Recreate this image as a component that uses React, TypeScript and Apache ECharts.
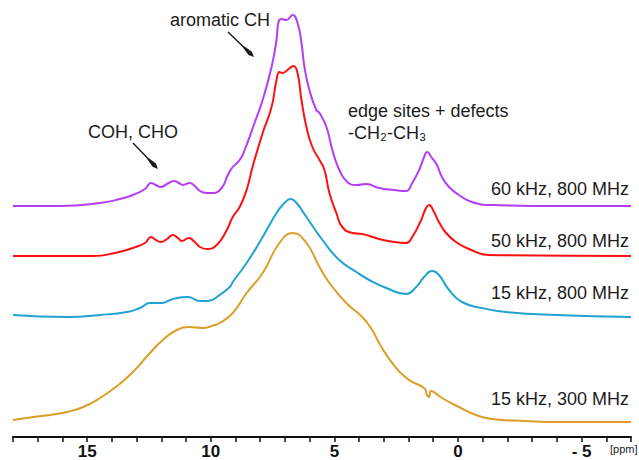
import React, { useEffect, useRef } from "react";
import * as echarts from "echarts";

// Chemical shift (ppm) and intensity (arbitrary units, above each trace's own baseline)
const ppm60 = [18.0, 16.09, 14.48, 13.67, 13.15, 12.66, 12.42, 12.22, 12.02, 11.77, 11.49, 11.29, 11.13, 10.85, 10.65, 10.44, 10.16, 9.92, 9.56, 9.31, 9.11, 8.83, 8.63, 8.23, 7.9, 7.54, 7.34, 7.26, 7.14, 6.94, 6.69, 6.49, 6.33, 6.21, 6.01, 5.73, 5.6, 5.32, 5.08, 4.8, 4.48, 4.11, 3.71, 3.19, 2.58, 2.1, 1.85, 1.57, 1.37, 1.25, 1.05, 0.85, 0.65, 0.36, -0.04, -0.56, -1.37, -4.07, -7.0];
const int60 = [0, 0, 3, 7, 11, 17, 23, 21, 19, 22, 25, 23, 21, 23, 20, 15, 13, 13, 18, 31, 39, 46, 56, 83, 106, 139, 166, 184, 187, 186, 191, 183, 163, 139, 116, 96, 93, 79, 56, 36, 24, 21, 22, 18, 16, 15, 23, 36, 49, 54, 48, 41, 29, 19, 11, 4, 1, 0, 0];

const ppm50 = [18.0, 14.76, 13.87, 13.15, 12.66, 12.42, 12.22, 12.02, 11.77, 11.53, 11.33, 11.17, 10.89, 10.65, 10.44, 10.16, 9.76, 9.35, 9.11, 8.83, 8.55, 8.31, 7.9, 7.54, 7.34, 7.22, 7.1, 6.9, 6.65, 6.49, 6.33, 6.13, 5.89, 5.6, 5.4, 5.2, 4.92, 4.68, 4.27, 3.87, 3.19, 2.58, 2.1, 1.85, 1.49, 1.29, 1.17, 0.97, 0.77, 0.48, 0.08, -0.44, -1.25, -7.0];
const int50 = [0, 0, 3, 8, 13, 19, 16, 14, 17, 21, 18, 15, 18, 14, 9, 7, 11, 26, 39, 49, 66, 89, 123, 149, 176, 184, 183, 186, 190, 183, 156, 129, 109, 96, 86, 63, 43, 29, 23, 22, 17, 14, 13, 19, 36, 48, 51, 44, 34, 23, 14, 7, 1, 0];

const ppm15a = [18.0, 15.81, 14.48, 13.39, 12.86, 12.46, 11.98, 11.53, 10.93, 10.44, 10.12, 9.64, 9.23, 9.11, 8.55, 7.9, 7.34, 7.02, 6.77, 6.53, 6.13, 5.48, 4.8, 4.11, 3.59, 2.9, 2.1, 1.69, 1.37, 1.05, 0.77, 0.36, -0.16, -0.97, -1.94, -3.95, -7.0];
const int15a = [1, -1, 1, 4, 8, 13, 13, 17, 19, 15, 15, 21, 29, 34, 53, 79, 103, 113, 117, 113, 99, 76, 56, 44, 36, 28, 22, 29, 39, 45, 41, 26, 14, 8, 4, 1, -1];

const ppm15b = [18.0, 17.18, 16.49, 15.81, 15.16, 14.48, 13.79, 13.15, 12.46, 11.94, 11.37, 10.85, 10.32, 9.96, 9.64, 9.11, 8.55, 7.9, 7.22, 6.69, 6.13, 5.6, 5.2, 4.52, 3.87, 3.47, 3.19, 2.66, 1.98, 1.37, 1.25, 1.17, 1.09, 0.65, -0.04, -0.73, -1.37, -2.74, -4.07, -7.0];
const int15b = [1, 4, 6, 9, 14, 23, 35, 49, 68, 81, 91, 94, 93, 95, 98, 108, 128, 148, 178, 188, 178, 154, 138, 118, 104, 91, 78, 58, 41, 33, 26, 24, 30, 23, 14, 6, 2, 0, -1, -1];

const seriesNames = ["60 kHz, 800 MHz", "50 kHz, 800 MHz", "15 kHz, 800 MHz", "15 kHz, 300 MHz"];
const seriesOffsets = [231, 181, 121, 16];
const seriesColors = ["#b43ef7", "#ff1010", "#22a2d0", "#dc9e28"];
const xTicks = [15, 10, 5, 0, -5];

const FONT = "'Liberation Sans', Arial, sans-serif";

function arrow(x1: number, y1: number, x2: number, y2: number) {
  const dx = x2 - x1, dy = y2 - y1;
  const len = Math.sqrt(dx * dx + dy * dy);
  const ux = dx / len, uy = dy / len;
  const px = -uy, py = ux;
  const at = (t: number, w: number) => [x1 + ux * len * t + px * w, y1 + uy * len * t + py * w];
  return [
    { type: "line", shape: { x1, y1, x2: at(0.55, 0)[0], y2: at(0.55, 0)[1] }, style: { stroke: "#1a1a1a", lineWidth: 1.4 } },
    { type: "polygon", shape: { points: [at(0.45, 0), at(0.85, 2.3), at(1, 0), at(0.85, -2.3)] }, style: { fill: "#1a1a1a" } },
  ];
}

function label(text: string, x: number, y: number, align: string) {
  return {
    type: "text",
    x, y,
    style: { text, font: `18px ${FONT}`, fill: "#1c1c1c", align, verticalAlign: "middle", textAlign: align, textVerticalAlign: "middle" },
  };
}

export default function App() {
  const ref = useRef<HTMLDivElement>(null);
  useEffect(() => {
    const chart = echarts.init(ref.current!, null, { renderer: "svg" });
    const sets = [[ppm60, int60], [ppm50, int50], [ppm15a, int15a], [ppm15b, int15b]];
    const series = sets.map(([p, v], i) => ({
      type: "line",
      name: seriesNames[i],
      data: p.map((x, j) => [x, v[j] + seriesOffsets[i]]),
      showSymbol: false,
      smooth: 0.5,
      lineStyle: { color: seriesColors[i], width: 2 },
      itemStyle: { color: seriesColors[i] },
    }));
    chart.setOption({
      animation: false,
      grid: { left: 13, right: 8, top: 0, bottom: 23 },
      xAxis: {
        type: "value",
        min: -7,
        max: 18,
        interval: 1,
        inverse: true,
        axisLine: { show: true, lineStyle: { color: "#111", width: 2 } },
        axisTick: { show: true, inside: false, length: 5, lineStyle: { color: "#111", width: 1.5 } },
        splitLine: { show: false },
        axisLabel: {
          margin: 6,
          fontSize: 17,
          fontWeight: "bold",
          color: "#111",
          fontFamily: FONT,
          formatter: (v: number) => (xTicks.includes(v) ? (v < 0 ? "- " + Math.abs(v) : String(v)) : ""),
        },
      },
      yAxis: { type: "value", min: 0, max: 437, show: false },
      series,
      graphic: [
        label("aromatic CH", 170, 20, "left"),
        label("COH, CHO", 88, 132, "left"),
        label("edge sites + defects", 348, 111, "left"),
        label("-CH\u2082-CH\u2083", 348, 133, "left"),
        label(seriesNames[0], 629, 189, "right"),
        label(seriesNames[1], 629, 241, "right"),
        label(seriesNames[2], 629, 293, "right"),
        label(seriesNames[3], 629, 399, "right"),
        {
          type: "text", x: 610, y: 449,
          style: { text: "[ppm]", font: `11px ${FONT}`, fill: "#1c1c1c", align: "left", verticalAlign: "middle", textAlign: "left", textVerticalAlign: "middle" },
        },
        ...arrow(228, 32, 254, 57),
        ...arrow(133, 143, 158, 169),
      ],
    });
    return () => chart.dispose();
  }, []);
  return <div ref={ref} style={{ position: "fixed", left: 0, top: 0, width: 639, height: 460, background: "#fff" }} />;
}
